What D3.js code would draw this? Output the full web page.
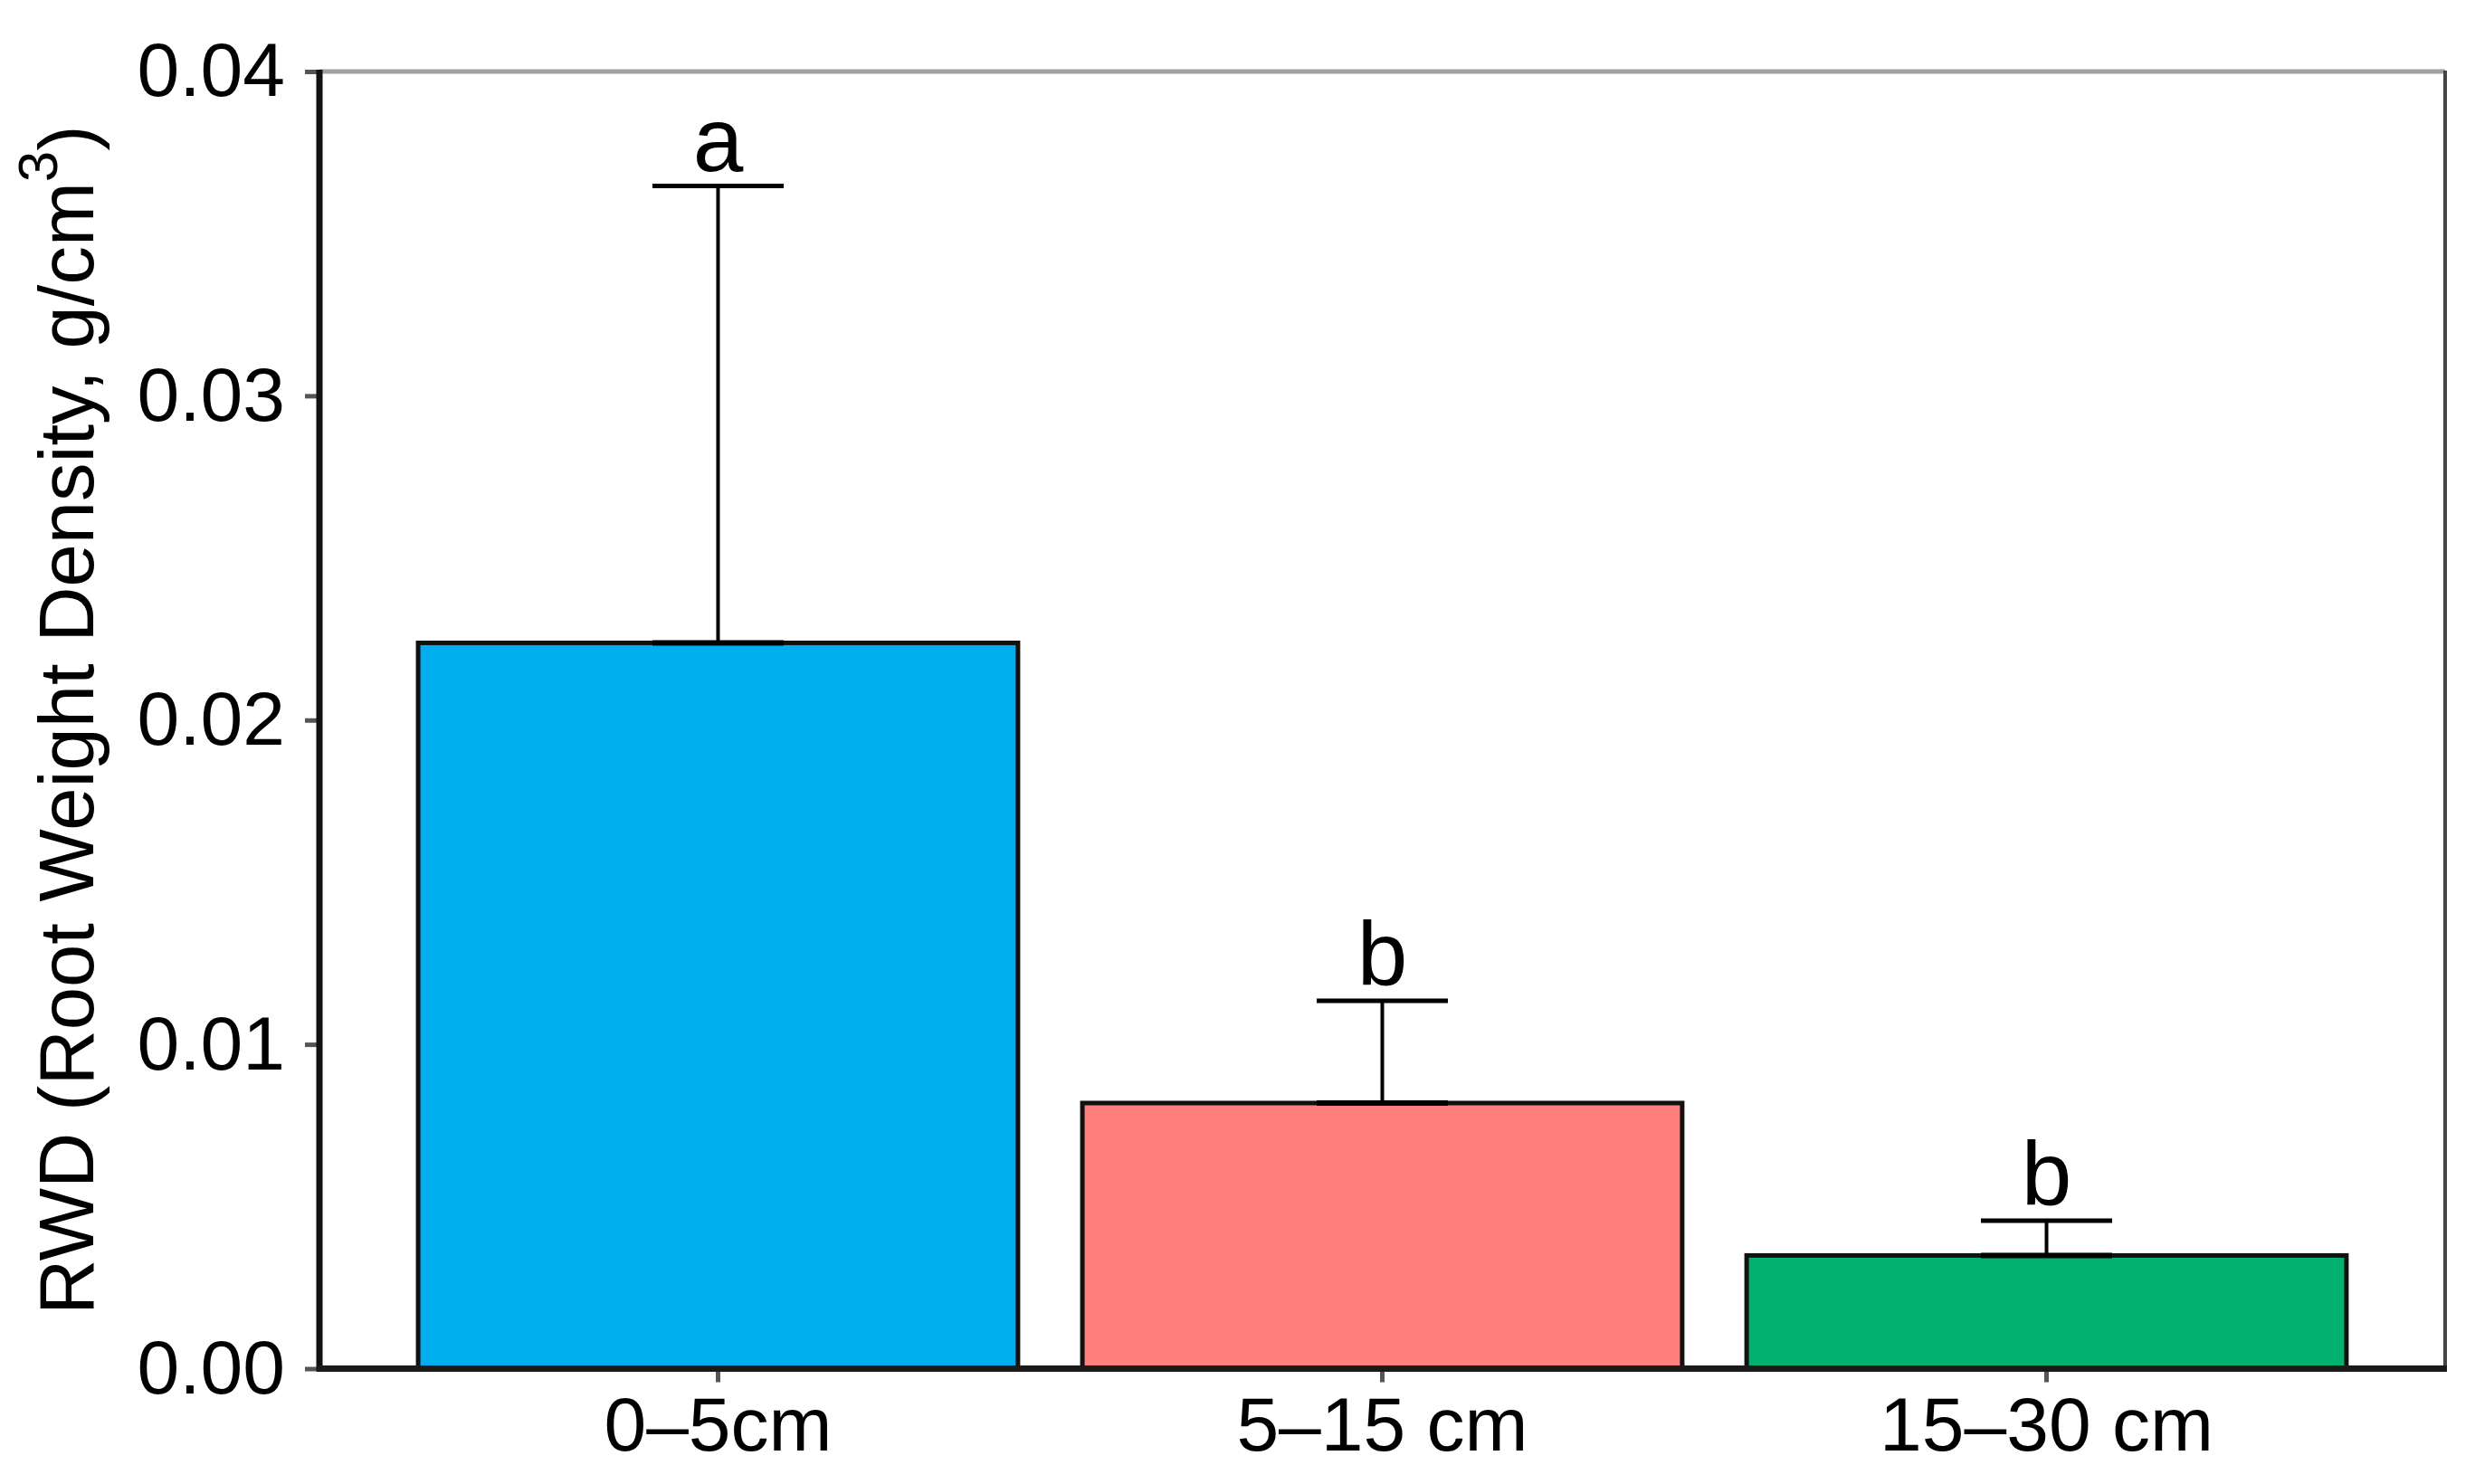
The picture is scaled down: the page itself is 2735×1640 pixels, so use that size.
<!DOCTYPE html>
<html>
<head>
<meta charset="utf-8">
<script src="https://cdn.jsdelivr.net/npm/d3@7"></script>
<style>
  html, body { margin: 0; padding: 0; background: #fff; }
  svg { display: block; }
  text { font-family: "Liberation Sans", Arial, Helvetica, sans-serif; fill: #000; }
</style>
</head>
<body>
<svg id="chart" width="2735" height="1640"></svg>
<script>
// ---- data ----
const categories = ["0\u20135cm", "5\u201315 cm", "15\u201330 cm"];
const means = [0.02238, 0.00819, 0.00349];
const errors = [0.01409, 0.00315, 0.00107];
const letters = ["a", "b", "b"];
const colors = ["#00AEEF", "#FF7F7F", "#00B26E"];
const yTicks = [0, 0.01, 0.02, 0.03, 0.04];
const yTitle = "RWD (Root Weight Density, g/cm";
const yTitleSup = "3";

(function () {
// ---- layout ----
const pLeft = 353, pRight = 2702, pTop = 79, pBottom = 1512.5;

const svg = d3.select("#chart");

const x = d3.scaleBand()
  .domain(categories)
  .range([pLeft, pRight])
  .paddingInner(0.097)
  .paddingOuter(0.1486);

const y = d3.scaleLinear()
  .domain([0, 0.04])
  .range([pBottom, pTop]);

const data = categories.map((c, i) => ({
  cat: c, mean: means[i], err: errors[i], letter: letters[i], color: colors[i]
}));

// top and right frame
svg.append("line")
  .attr("x1", pLeft).attr("x2", pRight)
  .attr("y1", pTop).attr("y2", pTop)
  .attr("stroke", "#a0a0a0").attr("stroke-width", 5);
svg.append("line")
  .attr("x1", pRight).attr("x2", pRight)
  .attr("y1", pTop - 1).attr("y2", pBottom)
  .attr("stroke", "#444").attr("stroke-width", 4);

// bars
svg.append("g").selectAll("rect")
  .data(data).join("rect")
  .attr("x", d => x(d.cat))
  .attr("y", d => y(d.mean))
  .attr("width", x.bandwidth())
  .attr("height", d => y(0) - y(d.mean))
  .attr("fill", d => d.color)
  .attr("stroke", "#111")
  .attr("stroke-width", 5);

// error bars
const capW = 145;
const cx = d => x(d.cat) + x.bandwidth() / 2;
const eg = svg.append("g").attr("stroke", "#000");
eg.selectAll("line.v")
  .data(data).join("line")
  .attr("class", "v")
  .attr("x1", cx).attr("x2", cx)
  .attr("y1", d => y(d.mean))
  .attr("y2", d => y(d.mean + d.err))
  .attr("stroke-width", 4);
eg.selectAll("line.cap")
  .data(data).join("line")
  .attr("class", "cap")
  .attr("x1", d => cx(d) - capW / 2)
  .attr("x2", d => cx(d) + capW / 2)
  .attr("y1", d => y(d.mean + d.err))
  .attr("y2", d => y(d.mean + d.err))
  .attr("stroke-width", 5);
eg.selectAll("line.low")
  .data(data).join("line")
  .attr("class", "low")
  .attr("x1", d => cx(d) - capW / 2)
  .attr("x2", d => cx(d) + capW / 2)
  .attr("y1", d => y(d.mean))
  .attr("y2", d => y(d.mean))
  .attr("stroke-width", 6);

// significance letters
svg.append("g").selectAll("text")
  .data(data).join("text")
  .attr("x", cx)
  .attr("y", d => y(d.mean + d.err) - 17)
  .attr("text-anchor", "middle")
  .attr("font-size", 100)
  .text(d => d.letter);

// y axis
const yAxis = d3.axisLeft(y)
  .tickValues(yTicks)
  .tickFormat(d3.format(".2f"))
  .tickSize(16)
  .tickSizeOuter(0)
  .tickPadding(22);
const gy = svg.append("g")
  .attr("transform", `translate(${pLeft},0)`)
  .call(yAxis);
gy.select(".domain").remove();
gy.selectAll(".tick line").attr("stroke", "#555").attr("stroke-width", 5);
gy.selectAll(".tick text")
  .attr("font-size", 84)
  .attr("font-family", "Liberation Sans, Arial, sans-serif")
  .attr("fill", "#000");

// x axis
const xAxis = d3.axisBottom(x)
  .tickSize(15)
  .tickSizeOuter(0)
  .tickPadding(16);
const gx = svg.append("g")
  .attr("transform", `translate(0,${pBottom})`)
  .call(xAxis);
gx.select(".domain").remove();
gx.selectAll(".tick line").attr("stroke", "#555").attr("stroke-width", 5);
gx.selectAll(".tick text")
  .attr("font-size", 84)
  .attr("font-family", "Liberation Sans, Arial, sans-serif")
  .attr("fill", "#000");

// axis lines
svg.append("line")
  .attr("x1", pLeft).attr("x2", pLeft)
  .attr("y1", pTop - 2).attr("y2", pBottom + 3)
  .attr("stroke", "#111").attr("stroke-width", 7);
svg.append("line")
  .attr("x1", pLeft - 3).attr("x2", pRight + 2)
  .attr("y1", pBottom).attr("y2", pBottom)
  .attr("stroke", "#1a1a1a").attr("stroke-width", 7);

// y axis title
const title = svg.append("text")
  .attr("transform", `translate(103,${(pTop + pBottom) / 2}) rotate(-90)`)
  .attr("text-anchor", "middle")
  .attr("font-size", 85);
title.append("tspan").text(yTitle);
title.append("tspan").attr("font-size", 62).attr("dy", -40).text(yTitleSup);
title.append("tspan").attr("dy", 40).text(")");
})();
</script>
</body>
</html>
